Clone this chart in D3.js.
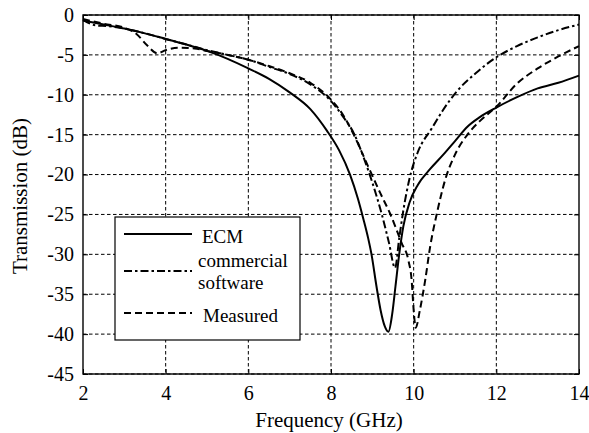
<!DOCTYPE html>
<html>
<head>
<meta charset="utf-8">
<script src="https://cdn.jsdelivr.net/npm/d3@7"></script>
<style>
  html, body { margin: 0; padding: 0; background: #fff; }
  svg { display: block; font-family: "Liberation Serif", "Times New Roman", serif; }
</style>
</head>
<body>
<svg id="chart" width="589" height="433"></svg>
<script>
// Frequency ticks and transmission ticks
const xTicks = [2, 4, 6, 8, 10, 12, 14];
const yTicks = [0, -5, -10, -15, -20, -25, -30, -35, -40, -45];

// ECM (equivalent circuit model)
const ecmFreq = [2, 2.5, 3, 3.5, 4, 4.5, 5, 5.5, 6, 6.5, 7, 7.5, 7.9, 8.2, 8.46, 8.65, 8.78, 8.9, 8.98, 9.1, 9.2, 9.3, 9.39, 9.48, 9.56, 9.65, 9.75, 9.9, 10.1, 10.4, 10.7, 11.0, 11.3, 11.6, 12, 12.5, 13, 13.5, 14];
const ecmDb   = [-0.7, -1.2, -1.7, -2.3, -3.0, -3.7, -4.5, -5.5, -6.7, -8.0, -9.7, -11.8, -14.5, -17.0, -20, -23, -25.5, -28, -30, -34, -37, -39, -39.7, -37.5, -34, -30, -26.5, -23.5, -21.3, -19.3, -17.6, -15.8, -14, -12.8, -11.6, -10.3, -9.2, -8.5, -7.6];

// Commercial software simulation
const simFreq = [2, 2.3, 2.6, 3, 3.5, 4, 4.5, 5, 5.5, 6, 6.5, 7, 7.5, 8, 8.3, 8.55, 8.8, 9.0, 9.23, 9.4, 9.55, 9.65, 9.75, 9.9, 10.1, 10.44, 10.7, 11.04, 11.5, 12, 12.5, 13, 13.5, 14];
const simDb   = [-0.6, -1.3, -1.4, -1.7, -2.3, -3.0, -3.7, -4.4, -5.0, -5.6, -6.5, -7.4, -8.7, -10.8, -12.8, -14.8, -18, -21, -25, -28.5, -31.7, -28, -24.5, -20.5, -17.2, -14.2, -12, -9.6, -7.3, -5.3, -3.9, -2.8, -1.9, -1.2];

// Measured transmission
const measFreq = [2, 2.5, 3, 3.3, 3.55, 3.8, 4.0, 4.3, 4.7, 5, 5.5, 6, 6.5, 7, 7.5, 8, 8.3, 8.55, 8.9, 9.19, 9.43, 9.71, 9.87, 9.95, 10.0, 10.05, 10.15, 10.28, 10.4, 10.56, 10.76, 11.0, 11.3, 11.6, 12, 12.5, 13, 13.5, 14];
const measDb   = [-0.5, -1.1, -1.6, -2.4, -3.8, -4.8, -4.4, -4.1, -4.2, -4.5, -5.0, -5.6, -6.4, -7.3, -8.5, -10.6, -12.6, -15, -19, -22.3, -24.9, -28.6, -30.7, -33.2, -37, -39.2, -37, -33.2, -29, -24.9, -20.7, -17.5, -15, -13.3, -11.5, -8.6, -6.7, -5.2, -3.9];

const seriesNames = ["ECM", "commercial software", "Measured"];

const svg = d3.select("#chart");
const plot = { left: 83, right: 579, top: 15, bottom: 374 };

const x = d3.scaleLinear().domain([2, 14]).range([plot.left, plot.right]);
const y = d3.scaleLinear().domain([-45, 0]).range([plot.bottom, plot.top]);

const series = [
  { name: seriesNames[0], f: ecmFreq, v: ecmDb, dash: null },
  { name: seriesNames[1], f: simFreq, v: simDb, dash: "8,3,2.5,3" },
  { name: seriesNames[2], f: measFreq, v: measDb, dash: "7,4" }
];

// Dashed grid
const grid = svg.append("g").attr("stroke", "#000").attr("stroke-width", 1)
  .attr("stroke-dasharray", "3.5,2.5").attr("fill", "none");
xTicks.slice(1, -1).forEach(t => {
  grid.append("line").attr("x1", x(t)).attr("x2", x(t))
    .attr("y1", plot.top).attr("y2", plot.bottom);
});
yTicks.forEach(t => {
  grid.append("line").attr("x1", plot.left).attr("x2", plot.right)
    .attr("y1", y(t)).attr("y2", y(t));
});

// Curves
const line = d3.line().curve(d3.curveMonotoneX)
  .x(d => x(d[0])).y(d => y(d[1]));
series.forEach(s => {
  svg.append("path")
    .datum(s.f.map((f, i) => [f, s.v[i]]))
    .attr("d", line)
    .attr("fill", "none")
    .attr("stroke", "#000")
    .attr("stroke-width", 2)
    .attr("stroke-linejoin", "round")
    .attr("stroke-dasharray", s.dash);
});

// Axes: bottom/left with labels, top/right without; ticks point inward
const xAxis = d3.axisBottom(x).tickValues(xTicks).tickSizeInner(-5).tickSizeOuter(0).tickPadding(12);
const yAxis = d3.axisLeft(y).tickValues(yTicks).tickSizeInner(-5).tickSizeOuter(0).tickPadding(9)
  .tickFormat(d => d === 0 ? "0" : "-" + Math.abs(d));
const xTop = d3.axisTop(x).tickValues(xTicks).tickSizeInner(-5).tickSizeOuter(0).tickFormat("");
const yRight = d3.axisRight(y).tickValues(yTicks).tickSizeInner(-5).tickSizeOuter(0).tickFormat("");

function styleAxis(g) {
  g.select(".domain").remove();
  g.selectAll(".tick line").attr("stroke", "#000").attr("stroke-width", 1);
  g.selectAll("text").attr("fill", "#000").attr("font-size", 20)
    .attr("font-family", "Liberation Serif, Times New Roman, serif");
}
svg.append("g").attr("transform", `translate(0,${plot.bottom})`).call(xAxis).call(styleAxis);
svg.append("g").attr("transform", `translate(${plot.left},0)`).call(yAxis).call(styleAxis);
svg.append("g").attr("transform", `translate(0,${plot.top})`).call(xTop).call(styleAxis);
svg.append("g").attr("transform", `translate(${plot.right},0)`).call(yRight).call(styleAxis);

// Plot frame
svg.append("rect")
  .attr("x", plot.left).attr("y", plot.top)
  .attr("width", plot.right - plot.left).attr("height", plot.bottom - plot.top)
  .attr("fill", "none").attr("stroke", "#000").attr("stroke-width", 1.4);

// Axis titles
svg.append("text").attr("x", 329).attr("y", 427).attr("text-anchor", "middle")
  .attr("font-size", 21).attr("fill", "#000").text("Frequency (GHz)");
svg.append("text").attr("transform", "translate(27,196) rotate(-90)")
  .attr("text-anchor", "middle").attr("font-size", 21).attr("fill", "#000")
  .text("Transmission (dB)");

// Legend
const lg = svg.append("g");
lg.append("rect").attr("x", 115).attr("y", 217).attr("width", 185).attr("height", 123)
  .attr("fill", "#fff").attr("stroke", "#000").attr("stroke-width", 1.2);
const legendRows = [
  { s: series[0], ly: 234, lines: [{ t: "ECM", x: 202, y: 243 }] },
  { s: series[1], ly: 271, lines: [{ t: "commercial", x: 198, y: 267 }, { t: "software", x: 198, y: 289 }] },
  { s: series[2], ly: 313, lines: [{ t: "Measured", x: 203, y: 322 }] }
];
legendRows.forEach(r => {
  lg.append("line").attr("x1", 124).attr("x2", 192).attr("y1", r.ly).attr("y2", r.ly)
    .attr("stroke", "#000").attr("stroke-width", 2.2).attr("stroke-dasharray", r.s.dash);
  r.lines.forEach(l => {
    lg.append("text").attr("x", l.x).attr("y", l.y).attr("font-size", 19)
      .attr("fill", "#000").text(l.t);
  });
});
</script>
</body>
</html>
